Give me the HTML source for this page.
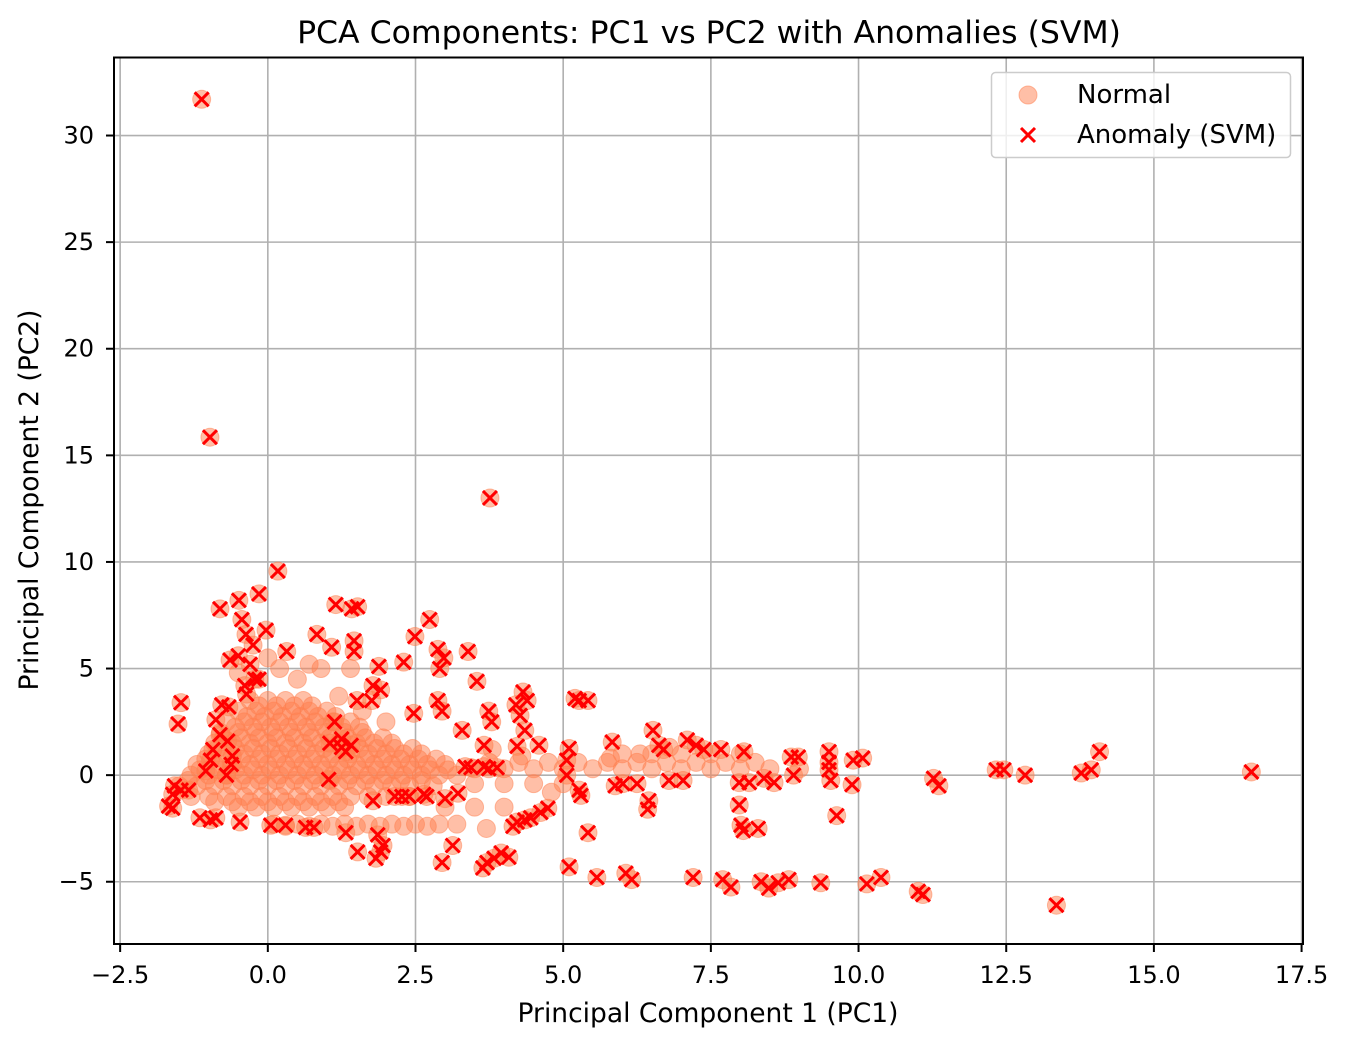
<!DOCTYPE html>
<html><head><meta charset="utf-8"><style>
body{margin:0;background:#fff;}
svg{display:block;font-family:"DejaVu Sans","Liberation Sans",sans-serif;}
</style></head><body>
<svg id="chart" width="1350" height="1046">
<rect width="1350" height="1046" fill="#fff"/>
<g id="grid"></g>
<g id="normals"></g>
<g id="anoms"></g>
<rect x="114" y="57.5" width="1189" height="886.5" fill="none" stroke="#000" stroke-width="2"/>
<g id="ticks" font-size="24"></g>
<text x="709" y="43" text-anchor="middle" font-size="31.5">PCA Components: PC1 vs PC2 with Anomalies (SVM)</text>
<text x="708" y="1022" text-anchor="middle" font-size="26.5">Principal Component 1 (PC1)</text>
<text transform="translate(38,500) rotate(-90)" text-anchor="middle" font-size="26.5">Principal Component 2 (PC2)</text>
<g>
<rect x="991.5" y="72.5" width="299" height="85" rx="4" fill="#fff" fill-opacity="0.8" stroke="#ccc" stroke-width="1.5"/>
<g><circle cx="1028" cy="95" r="9" fill="#ff7f50" fill-opacity="0.5" stroke="#ff7f50" stroke-opacity="0.5"/><text x="1077" y="103" font-size="26">Normal</text></g>
<g><path d="M1021 128 L1035 142 M1035 128 L1021 142" stroke="#f00" stroke-width="3"/><text x="1077" y="143" font-size="26">Anomaly (SVM)</text></g>
</g>
</svg>
<script>
const xTicks=[-2.5,0.0,2.5,5.0,7.5,10.0,12.5,15.0,17.5];
const yTicks=[-5,0,5,10,15,20,25,30];
const anomX=[-1.12,-0.98,3.76,0.17,-0.81,-0.49,-0.15,-0.03,-0.44,-0.37,-0.25,-0.64,-0.5,0.32,1.15,1.42,1.52,0.83,1.46,1.08,1.46,2.74,2.49,2.3,1.88,2.88,2.98,2.91,3.39,3.54,2.88,2.95,3.29,2.47,1.91,1.76,1.51,1.78,-0.3,-0.22,-0.39,-0.36,-0.15,-0.78,-0.66,-1.47,-1.52,-0.88,-0.81,-0.68,-0.93,-0.97,-1.05,-1.58,-1.47,-1.34,-1.61,-1.68,-1.61,-1.15,-0.97,-0.88,-0.47,0.05,0.3,0.64,0.78,1.32,1.86,1.52,1.91,1.95,1.83,1.03,1.13,1.25,1.25,1.32,1.05,1.41,1.78,2.15,2.27,2.39,2.64,2.69,3.0,3.34,3.44,3.66,3.74,3.88,3.22,3.13,2.95,3.74,3.79,3.66,4.22,4.59,4.2,4.32,4.39,4.27,4.35,3.64,3.71,3.83,3.95,4.08,4.15,4.22,4.35,4.45,4.62,4.74,5.1,5.06,5.06,5.2,5.27,5.42,5.27,5.3,5.42,5.1,5.57,5.83,5.88,6.01,6.25,6.06,6.16,6.45,6.43,6.52,6.62,6.7,6.79,7.03,7.1,7.25,7.38,7.2,7.67,7.7,7.84,8.06,7.98,8.15,7.98,8.01,8.05,8.3,8.35,8.48,8.64,8.4,8.57,8.86,8.98,8.9,8.82,9.36,9.5,9.5,9.5,9.53,9.63,9.91,10.07,9.89,10.14,10.38,11.01,11.09,11.27,11.36,12.33,12.46,12.82,13.35,13.77,13.94,14.08,16.65,-0.6,-0.62,-0.7];
const anomY=[31.7,15.85,13.0,9.57,7.8,8.2,8.5,6.8,7.3,6.6,6.1,5.4,5.6,5.8,8.0,7.8,7.9,6.6,6.3,6.0,5.8,7.3,6.5,5.3,5.1,5.9,5.5,5.0,5.8,4.4,3.5,3.0,2.1,2.9,4.0,3.5,3.5,4.2,5.2,4.5,4.2,3.8,4.5,3.3,3.2,3.4,2.4,2.6,1.9,1.6,1.2,0.7,0.2,-0.5,-0.7,-0.7,-0.9,-1.45,-1.55,-2.0,-2.1,-2.0,-2.2,-2.35,-2.35,-2.45,-2.45,-2.7,-2.8,-3.6,-3.6,-3.3,-3.9,-0.2,2.5,1.7,1.3,1.1,1.5,1.4,-1.2,-1.0,-1.0,-1.0,-0.9,-1.0,-1.1,0.4,0.35,0.4,0.3,0.35,-0.85,-3.3,-4.1,3.0,2.5,1.4,1.35,1.4,3.3,3.9,3.5,2.8,2.1,-4.35,-4.1,-3.9,-3.65,-3.85,-2.4,-2.2,-2.1,-2.0,-1.75,-1.55,1.25,0.7,0.0,3.6,3.5,3.5,-0.7,-0.95,-2.7,-4.3,-4.8,1.55,-0.5,-0.4,-0.4,-4.6,-4.9,-1.2,-1.6,2.1,1.4,1.2,-0.25,-0.25,1.65,1.4,1.2,-4.8,1.2,-4.9,-5.25,1.1,-0.35,-0.35,-1.4,-2.35,-2.6,-2.5,-5.0,-5.3,-5.05,-0.15,-0.35,0.85,0.85,0.0,-4.9,-5.05,1.1,0.6,0.25,-0.25,-1.9,0.7,0.8,-0.45,-5.1,-4.8,-5.45,-5.6,-0.15,-0.5,0.25,0.25,0.0,-6.1,0.1,0.25,1.1,0.15,0.9,0.5,0.0];
const normalX=[-0.3,0.0,0.3,0.6,-0.5,-0.2,0.1,0.4,0.7,1.0,-0.7,-0.4,-0.1,0.2,0.5,0.8,1.1,1.4,-0.8,-0.5,-0.2,0.1,0.4,0.7,1.0,1.3,1.6,-0.9,-0.6,-0.3,0.0,0.3,0.6,0.9,1.2,1.5,1.8,2.1,-1.0,-0.7,-0.4,-0.1,0.2,0.5,0.8,1.1,1.4,1.7,2.0,2.3,2.6,-1.2,-0.9,-0.6,-0.3,0.0,0.3,0.6,0.9,1.2,1.5,1.8,2.1,2.4,2.7,3.0,-1.3,-1.0,-0.7,-0.4,-0.1,0.2,0.5,0.8,1.1,1.4,1.7,2.0,2.3,2.6,2.9,3.2,-1.5,-1.2,-0.9,-0.6,-0.3,0.0,0.3,0.6,0.9,1.2,1.5,1.8,2.1,2.4,2.8,-1.3,-1.0,-0.7,-0.4,-0.1,0.2,0.5,0.8,1.1,1.4,1.7,2.0,2.4,-0.5,-0.2,0.1,0.4,0.7,1.0,1.3,0.1,0.5,0.9,1.3,1.7,2.1,2.5,2.9,3.2,3.5,4.0,4.5,5.0,5.5,6.0,6.5,7.0,7.5,8.0,8.5,9.0,6.0,6.5,7.0,7.5,8.0,3.5,4.0,4.5,5.0,3.0,3.5,4.0,3.7,0.2,0.5,0.7,0.9,1.4,1.2,1.6,2.0,-0.5,0.0,3.8,4.3,4.8,5.8,6.3,6.8,
-0.15,0.15,0.45,0.75,-0.35,-0.05,0.25,0.55,0.85,1.15,-0.55,-0.25,0.05,0.35,0.65,0.95,1.25,1.55,-0.75,-0.45,-0.15,0.15,0.45,0.75,1.05,1.35,1.65,1.95,-0.85,-0.55,-0.25,0.05,0.35,0.65,0.95,1.25,1.55,1.85,2.15,2.45,-1.05,-0.75,-0.45,-0.15,0.15,0.45,0.75,1.05,1.35,1.65,1.95,2.25,2.55,2.85,-1.15,-0.85,-0.55,-0.25,0.05,0.35,0.65,0.95,1.25,1.55,1.85,2.15,2.45,2.75,3.05,-1.35,-1.05,-0.75,-0.45,-0.15,0.15,0.45,0.75,1.05,1.35,1.65,1.95,2.25,2.6,-0.9,-0.6,-0.3,0.0,0.3,0.6,0.9,1.2,0.3,0.7,1.1,1.5,1.9,2.3,2.7,3.75,4.25,4.75,5.25,5.75,6.25,6.75,7.25,7.75,8.25];
const normalY=[3.5,3.5,3.5,3.5,3.0,3.0,3.0,3.0,3.0,3.0,2.5,2.5,2.5,2.5,2.5,2.5,2.5,2.5,2.0,2.0,2.0,2.0,2.0,2.0,2.0,2.0,2.0,1.5,1.5,1.5,1.5,1.5,1.5,1.5,1.5,1.5,1.5,1.5,1.0,1.0,1.0,1.0,1.0,1.0,1.0,1.0,1.0,1.0,1.0,1.0,1.0,0.5,0.5,0.5,0.5,0.5,0.5,0.5,0.5,0.5,0.5,0.5,0.5,0.5,0.5,0.5,0.0,0.0,0.0,0.0,0.0,0.0,0.0,0.0,0.0,0.0,0.0,0.0,0.0,0.0,0.0,0.0,-0.5,-0.5,-0.5,-0.5,-0.5,-0.5,-0.5,-0.5,-0.5,-0.5,-0.5,-0.5,-0.5,-0.5,-0.5,-1.0,-1.0,-1.0,-1.0,-1.0,-1.0,-1.0,-1.0,-1.0,-1.0,-1.0,-1.0,-1.0,-1.5,-1.5,-1.5,-1.5,-1.5,-1.5,-1.5,-2.3,-2.3,-2.3,-2.3,-2.3,-2.3,-2.3,-2.3,-2.3,0.3,0.3,0.3,0.3,0.3,0.3,0.3,0.3,0.3,0.3,0.3,0.3,1.0,1.0,1.0,1.0,1.0,-0.4,-0.4,-0.4,-0.4,-1.5,-1.5,-1.5,-2.5,5.0,4.5,5.2,5.0,5.0,3.7,3.0,2.5,4.8,5.5,1.2,0.9,-0.8,0.8,1.0,1.3,
3.25,3.25,3.25,3.25,2.75,2.75,2.75,2.75,2.75,2.75,2.25,2.25,2.25,2.25,2.25,2.25,2.25,2.25,1.75,1.75,1.75,1.75,1.75,1.75,1.75,1.75,1.75,1.75,1.25,1.25,1.25,1.25,1.25,1.25,1.25,1.25,1.25,1.25,1.25,1.25,0.75,0.75,0.75,0.75,0.75,0.75,0.75,0.75,0.75,0.75,0.75,0.75,0.75,0.75,0.25,0.25,0.25,0.25,0.25,0.25,0.25,0.25,0.25,0.25,0.25,0.25,0.25,0.25,0.25,-0.25,-0.25,-0.25,-0.25,-0.25,-0.25,-0.25,-0.25,-0.25,-0.25,-0.25,-0.25,-0.25,-0.25,-1.25,-1.25,-1.25,-1.25,-1.25,-1.25,-1.25,-1.25,-2.4,-2.4,-2.4,-2.4,-2.4,-2.4,-2.4,0.6,0.6,0.6,0.6,0.6,0.6,0.6,0.6,0.6,0.6];
const NS='http://www.w3.org/2000/svg';
const X0=114,X1=1303,Y0=57.5,Y1=944,xmin=-2.604,xmax=17.524,ymin=-7.92,ymax=33.66;
function sx(v){return X0+(v-xmin)/(xmax-xmin)*(X1-X0);}
function sy(v){return Y1-(v-ymin)/(ymax-ymin)*(Y1-Y0);}
function mk(tag,attrs,parent){const e=document.createElementNS(NS,tag);for(const k in attrs)e.setAttribute(k,attrs[k]);parent.appendChild(e);return e;}
const grid=document.getElementById('grid'),ticks=document.getElementById('ticks');
xTicks.forEach(t=>{const x=sx(t);
 const g=mk('line',{x1:x,x2:x,y1:Y0,y2:Y1,stroke:'#b0b0b0','stroke-width':1.6},grid);
 
 
 mk('line',{x1:x,x2:x,y1:Y1,y2:Y1+8,stroke:'#000','stroke-width':2},ticks);
 const tx=mk('text',{x:x,y:Y1+39,'text-anchor':'middle'},ticks);tx.textContent=t.toFixed(1).replace('-','−');
 
 
});
yTicks.forEach(t=>{const y=sy(t);
 const g=mk('line',{x1:X0,x2:X1,y1:y,y2:y,stroke:'#b0b0b0','stroke-width':1.6},grid);
 
 
 mk('line',{x1:X0-8,x2:X0,y1:y,y2:y,stroke:'#000','stroke-width':2},ticks);
 const tx=mk('text',{x:X0-20,y:y+8,'text-anchor':'end'},ticks);tx.textContent=String(t).replace('-','−');
 
 
});
const ng=document.getElementById('normals');
function circ(x,y){return mk('circle',{cx:sx(x),cy:sy(y),r:9,fill:'#ff7f50','fill-opacity':0.5,stroke:'#ff7f50','stroke-opacity':0.5},ng);}
normalX.forEach((x,i)=>{const c=circ(x,normalY[i]);
 
 });
anomX.forEach((x,i)=>{const c=circ(x,anomY[i]);
 
 });
const ag=document.getElementById('anoms');
anomX.forEach((x,i)=>{const px=sx(x),py=sy(anomY[i]),d=7;
 const p=mk('path',{d:`M${px-d} ${py-d}L${px+d} ${py+d}M${px+d} ${py-d}L${px-d} ${py+d}`,stroke:'#f00','stroke-width':3},ag);
 
 });
</script>
</body></html>
